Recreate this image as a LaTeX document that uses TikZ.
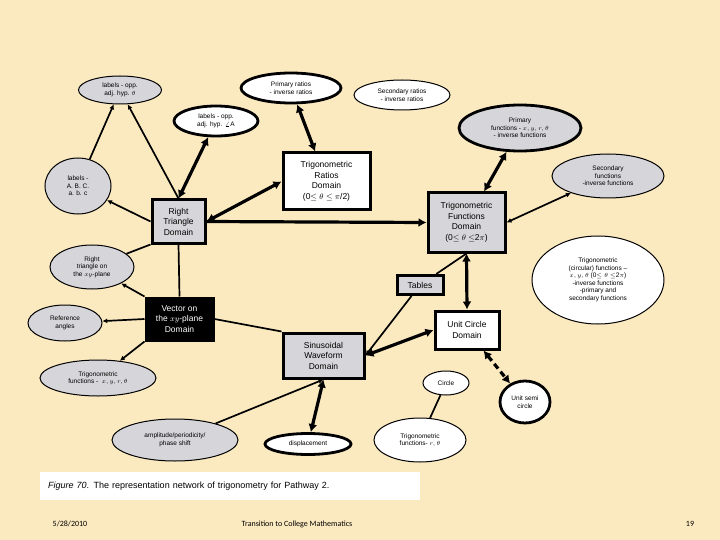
\documentclass[tikz,border=0pt]{standalone}
\usepackage{fontspec}
\setmainfont{Liberation Sans}
\newfontfamily\footfont{Carlito}
\usetikzlibrary{shapes.geometric,arrows.meta}
\definecolor{bg}{HTML}{FBEAC0}
\definecolor{gr}{HTML}{D6D6DA}
\begin{document}
\begin{tikzpicture}[x=1pt,y=-1pt,
  el/.style={ellipse,draw,line width=1pt,inner sep=0pt,align=center,font=\fontsize{6.5}{7.5}\selectfont},
  elk/.style={el,line width=2.8pt},
  bx/.style={draw,line width=3pt,inner sep=0pt,align=center,font=\fontsize{8.5}{10.5}\selectfont},
  thin/.style={line width=1.7pt},
  thk/.style={line width=3.2pt},
  ta/.style={-{Latex[length=5pt,width=5pt]}},
  tb/.style={{Latex[length=5pt,width=5pt]}-{Latex[length=5pt,width=5pt]}},
  ka/.style={-{Latex[length=8pt,width=9pt]}},
  kb/.style={{Latex[length=8pt,width=9pt]}-{Latex[length=8pt,width=9pt]}}]
\fill[bg] (0,0) rectangle (720,540);
\useasboundingbox (0,0) rectangle (720,540);
% ellipses
\node[el,fill=gr,minimum width=83,minimum height=28] (lth) at (120,90) {labels - opp.\\adj. hyp. $\theta$};
\node[elk,fill=white,minimum width=100,minimum height=30] (pr) at (291,88) {Primary ratios\\- inverse ratios};
\node[el,fill=white,minimum width=96,minimum height=30] (sr) at (402,95) {Secondary ratios\\- inverse ratios};
\node[elk,fill=white,minimum width=84,minimum height=30] (la) at (216,121) {labels - opp.\\adj. hyp. $\angle$A};
\node[elk,fill=gr,minimum width=122,minimum height=46] (pf) at (520,128) {Primary\\functions - $x, y, r, \theta$\\- inverse functions};
\node[el,fill=gr,minimum width=112,minimum height=44] (sf) at (608,176) {Secondary\\functions\\-inverse functions};
\node[el,fill=gr,minimum width=66,minimum height=56] (abc) at (78,186) {labels -\\A. B. C.\\a. b. c};
\node[el,fill=gr,minimum width=84,minimum height=44] (rxy) at (92,267) {Right\\triangle on\\the $xy$-plane};
\node[el,fill=white,minimum width=132,minimum height=88] (tc) at (598,280) {Trigonometric\\(circular) functions --\\$x, y, \theta$ (0$\leq\theta\leq$2$\pi$)\\-inverse functions\\-primary and\\secondary functions};
\node[el,fill=gr,minimum width=74,minimum height=36] (ref) at (65,323) {Reference\\angles};
\node[el,fill=gr,minimum width=116,minimum height=36] (txy) at (98,378) {Trigonometric\\functions - \ $x, y, r, \theta$};
\node[el,fill=white,minimum width=46,minimum height=24] (ci) at (446,383) {Circle};
\node[elk,fill=white,minimum width=50,minimum height=42] (us) at (525,402) {Unit semi\\circle};
\node[el,fill=gr,minimum width=126,minimum height=42] (amp) at (175,440) {amplitude/periodicity/\\phase shift};
\node[elk,fill=white,minimum width=86,minimum height=21] (dis) at (308,444) {displacement};
\node[el,fill=white,minimum width=92,minimum height=44] (trt) at (420,440) {Trigonometric\\functions- $r, \theta$};
% boxes
\node[bx,fill=white,minimum width=87,minimum height=57] (trd) at (326.5,181.5) {Trigonometric\\Ratios\\Domain\\(0$\leq\theta\leq\pi$/2)};
\node[bx,fill=gr,minimum width=53,minimum height=43] (rtd) at (178.5,221.5) {Right\\Triangle\\Domain};
\node[bx,fill=gr,minimum width=77,minimum height=59] (tfd) at (466.5,222.5) {Trigonometric\\Functions\\Domain\\(0$\leq\theta\leq$2$\pi$)};
\node[bx,fill=gr,minimum width=46,minimum height=19] (tab) at (420,285) {Tables};
\node[bx,fill=black,text=white,minimum width=67,minimum height=42] (vec) at (179.5,319) {Vector on\\the $xy$-plane\\Domain};
\node[bx,fill=white,minimum width=64,minimum height=38] (ucd) at (467,330) {Unit Circle\\Domain};
\node[bx,fill=gr,minimum width=81,minimum height=45] (sin) at (323.5,355.5) {Sinusoidal\\Waveform\\Domain};
% connectors
\draw[thin,ta] (rtd.north) -- (lth);
\draw[thin,ta] (abc) -- (lth);
\draw[thk,kb] (rtd.north) -- (la);
\draw[thk,kb] (rtd.east) -- (trd.west);
\draw[thk,ka] (rtd.east) -- (tfd.west);
\draw[thin,ta] (rtd.west) -- (abc);
\draw[thin] (rtd.south west) -- (rxy);
\draw[thin] (rtd.south) -- (vec.north);
\draw[thin,ta] (vec.north west) -- (rxy);
\draw[thin,ta] (vec.west) -- (ref);
\draw[thin,ta] (vec.south west) -- (txy);
\draw[thin] (vec.east) -- (sin.north west);
\draw[thk,kb] (trd) -- (pr);
\draw[thk,kb] (tfd) -- (pf);
\draw[thin,tb] (tfd.east) -- (sf);
\draw[thk,kb] (tfd.south) -- (ucd.north);
\draw[thin] (tfd.south) -- (tab);
\draw[thin,ta] (tab) -- (sin.east);
\draw[thk,kb] (ucd.west) -- (sin.east);
\draw[thk,kb,dash pattern=on 6pt off 4pt] (ucd) -- (us);
\draw[thin,ta] (amp) -- (sin.south);
\draw[thk,kb] (dis) -- (sin.south);
\draw[thin] (ci) -- (trt);
% caption and footer
\node[fill=white,minimum width=380,minimum height=28,anchor=west,inner xsep=8pt,text width=364,font=\fontsize{9}{11}\selectfont] (cap) at (40,486) {\textit{Figure 70}. The representation network of trigonometry for Pathway 2.};
\node[font=\footfont\fontsize{8}{10}\selectfont] (d) at (70,524) {5/28/2010};
\node[font=\footfont\fontsize{8}{10}\selectfont] (t) at (297,524) {Transition to College Mathematics};
\node[font=\footfont\fontsize{8}{10}\selectfont] (p) at (690,524) {19};
\end{tikzpicture}
\end{document}
